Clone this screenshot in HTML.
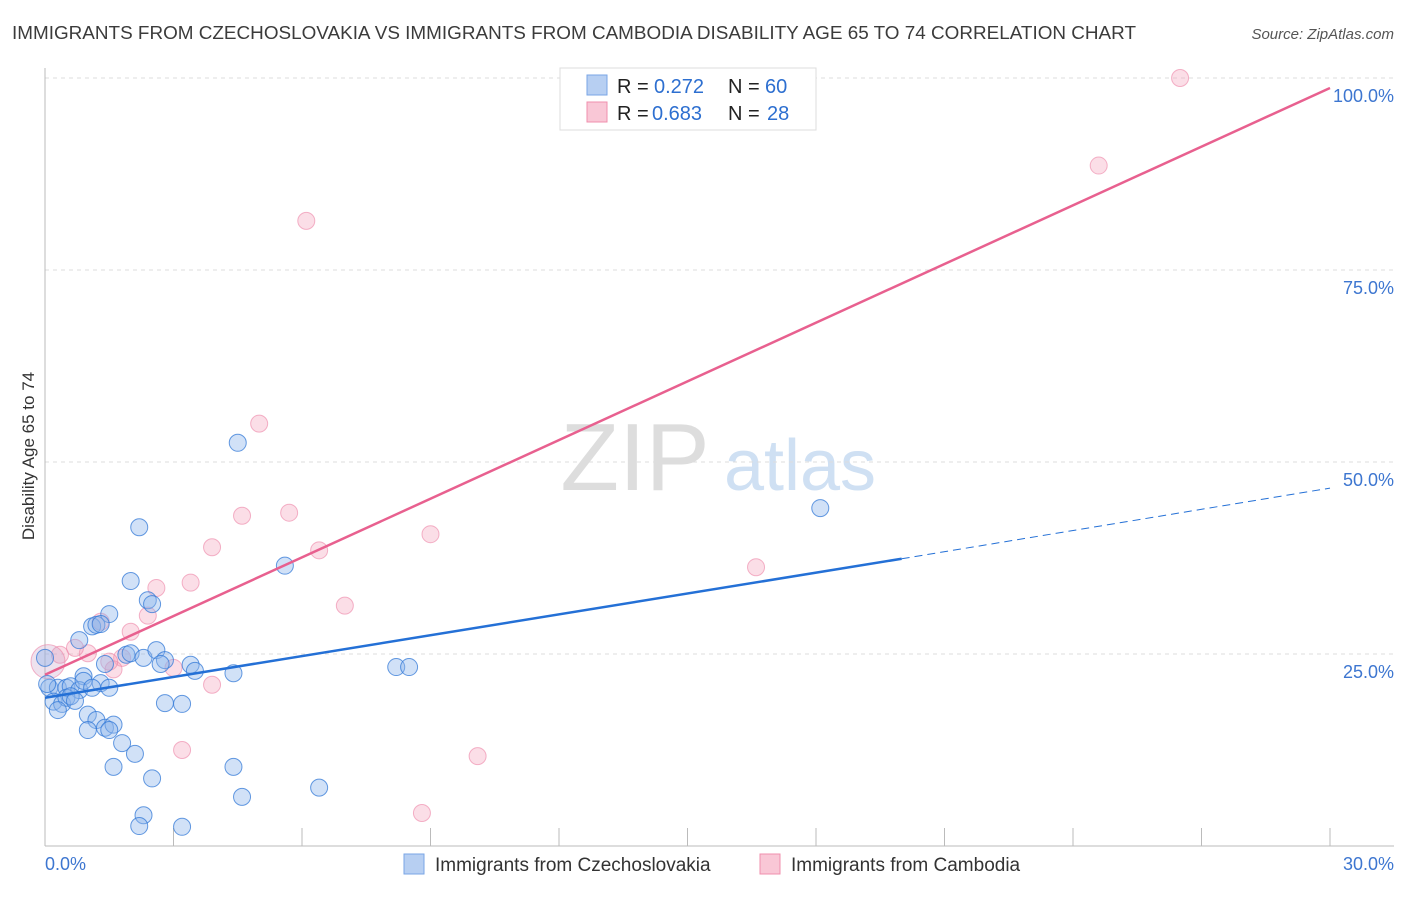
<!DOCTYPE html>
<html><head><meta charset="utf-8"><style>
body{margin:0;background:#fff;font-family:"Liberation Sans",sans-serif;}
svg text{font-family:"Liberation Sans",sans-serif;}
</style></head><body>
<svg id="chart" width="1406" height="892" xmlns="http://www.w3.org/2000/svg">
<text x="12" y="39" font-size="18" fill="#3b3b3b" textLength="1124" lengthAdjust="spacingAndGlyphs">IMMIGRANTS FROM CZECHOSLOVAKIA VS IMMIGRANTS FROM CAMBODIA DISABILITY AGE 65 TO 74 CORRELATION CHART</text>
<text x="1394" y="39" font-size="15" fill="#555" text-anchor="end" font-style="italic">Source: ZipAtlas.com</text>
<text x="34" y="456" font-size="17" fill="#333" text-anchor="middle" transform="rotate(-90 34 456)">Disability Age 65 to 74</text>
<g><text x="635" y="490" font-size="96" fill="#ddd" text-anchor="middle" font-family="Liberation Serif">ZIP</text><text x="800" y="490" font-size="72" fill="#cfe0f3" text-anchor="middle">atlas</text></g>
<g id="grid"></g><g id="axes"></g><g id="pts"></g><g id="lines"></g>
<g>
<rect x="560" y="68" width="256" height="62" fill="#fff" stroke="#ddd"/>
<rect x="587" y="75" width="20" height="20" fill="#b7cff2" stroke="#7aa6e6"/>
<rect x="587" y="102" width="20" height="20" fill="#f9c7d6" stroke="#f08fad"/>
<text x="617" y="93" font-size="20" fill="#222">R =</text><text x="654" y="93" font-size="20" fill="#2d6fd0">0.272</text>
<text x="728" y="93" font-size="20" fill="#222">N =</text><text x="765" y="93" font-size="20" fill="#2d6fd0">60</text>
<text x="617" y="120" font-size="20" fill="#222">R =</text><text x="652" y="120" font-size="20" fill="#2d6fd0">0.683</text>
<text x="728" y="120" font-size="20" fill="#222">N =</text><text x="767" y="120" font-size="20" fill="#2d6fd0">28</text>
</g>
<g>
<rect x="404" y="854" width="20" height="20" fill="#b7cff2" stroke="#7aa6e6"/>
<text x="435" y="871" font-size="19" fill="#333">Immigrants from Czechoslovakia</text>
<rect x="760" y="854" width="20" height="20" fill="#f9c7d6" stroke="#f08fad"/>
<text x="791" y="871" font-size="19" fill="#333">Immigrants from Cambodia</text>
</g>
</svg>
<script>
const yTicks=[25,50,75,100];
const yTickLabels=["25.0%","50.0%","75.0%","100.0%"];
const xTickLabels=["0.0%","30.0%"];
const blueX=[2.2,4.5,2.0,5.6,18.1,2.4,2.5,1.5,1.1,1.2,1.3,0.8,1.9,2.0,2.3,2.6,2.8,2.7,3.4,3.5,4.4,1.4,0.9,0.1,0.3,0.5,0.6,0.8,0.9,1.3,0.2,0.4,0.5,1.1,1.5,8.2,8.5,2.8,3.2,1.0,1.2,1.0,1.4,1.6,1.5,1.8,2.1,1.6,4.4,2.5,6.4,4.6,2.3,2.2,3.2,0.05,0.0,0.3,0.6,0.7];
const blueY=[41.5,52.5,34.5,36.5,44,32,31.5,30.2,28.6,28.8,28.9,26.8,24.9,25.1,24.5,25.5,24.2,23.7,23.6,22.8,22.5,23.7,22.1,20.6,20.6,20.6,20.8,20.3,21.5,21.2,18.8,18.5,19.3,20.6,20.6,23.3,23.3,18.6,18.5,17.1,16.4,15.1,15.4,15.8,15.1,13.4,12,10.3,10.3,8.8,7.6,6.4,4,2.6,2.5,21.1,24.5,17.7,19.5,18.9];
const pinkX=[26.5,24.6,6.1,5.0,4.6,5.7,3.9,6.4,9.0,16.6,2.6,3.4,2.4,7.0,2.0,1.3,1.0,0.7,0.35,0.07,1.8,1.6,3.0,3.9,3.2,10.1,8.8,1.5];
const pinkY=[100,88.6,81.4,55,43,43.4,38.9,38.5,40.6,36.3,33.6,34.3,30.0,31.3,27.9,29.2,25.1,25.8,24.9,24.0,24.5,23.0,23.2,21.0,12.5,11.7,4.3,24.0];
const blueTrend=[[0,19.3],[20,37.4]],blueDash=[[20,37.4],[30,46.6]];
const pinkTrend=[[0,22.3],[30,98.7]];
const NS="http://www.w3.org/2000/svg";
const X=v=>45+v/30*1285, Y=v=>846-v/100*768;
function mk(p,t,a){const e=document.createElementNS(NS,t);for(const k in a)e.setAttribute(k,a[k]);document.getElementById(p).appendChild(e);return e;}
yTicks.forEach((t,i)=>{
 const g=mk('grid','line',{x1:45,x2:1394,y1:Y(t),y2:Y(t),stroke:'#ddd','stroke-dasharray':'4,4'});
 
 
 const l=mk('grid','text',{x:1394,y:Y(t)+24,'font-size':18,fill:'#3d76d0','text-anchor':'end'});l.textContent=yTickLabels[i];
 
 
});
const ax=mk('axes','line',{x1:45,x2:1394,y1:846,y2:846,stroke:'#bbb'});


const ay=mk('axes','line',{x1:45,x2:45,y1:68,y2:846,stroke:'#bbb'});


for(let i=1;i<=10;i++){const t=mk('axes','line',{x1:X(i*3),x2:X(i*3),y1:828,y2:846,stroke:'#bbb'});
 
 }
const xl0=mk('axes','text',{x:45,y:870,'font-size':18,fill:'#3d76d0'});xl0.textContent=xTickLabels[0];


const xl1=mk('axes','text',{x:1394,y:870,'font-size':18,fill:'#3d76d0','text-anchor':'end'});xl1.textContent=xTickLabels[1];


pinkX.forEach((v,i)=>{const c=mk('pts','circle',{cx:X(v),cy:Y(pinkY[i]),r:i==19?17:8.5,fill:i==19?'rgba(200,160,200,0.3)':'rgba(244,160,186,0.35)',stroke:'rgba(236,130,165,0.6)'});
 
 });
blueX.forEach((v,i)=>{const c=mk('pts','circle',{cx:X(v),cy:Y(blueY[i]),r:8.5,fill:'rgba(140,180,235,0.4)',stroke:'rgba(50,120,215,0.75)'});
 
 });
const t1=mk('lines','line',{x1:X(blueTrend[0][0]),y1:Y(blueTrend[0][1]),x2:X(blueTrend[1][0]),y2:Y(blueTrend[1][1]),stroke:'#2470d6','stroke-width':2.5});


const t2=mk('lines','line',{x1:X(blueDash[0][0]),y1:Y(blueDash[0][1]),x2:X(blueDash[1][0]),y2:Y(blueDash[1][1]),stroke:'#2470d6','stroke-width':1,'stroke-dasharray':'8,5'});


const t3=mk('lines','line',{x1:X(pinkTrend[0][0]),y1:Y(pinkTrend[0][1]),x2:X(pinkTrend[1][0]),y2:Y(pinkTrend[1][1]),stroke:'#e8608f','stroke-width':2.5});


</script>
</body></html>
